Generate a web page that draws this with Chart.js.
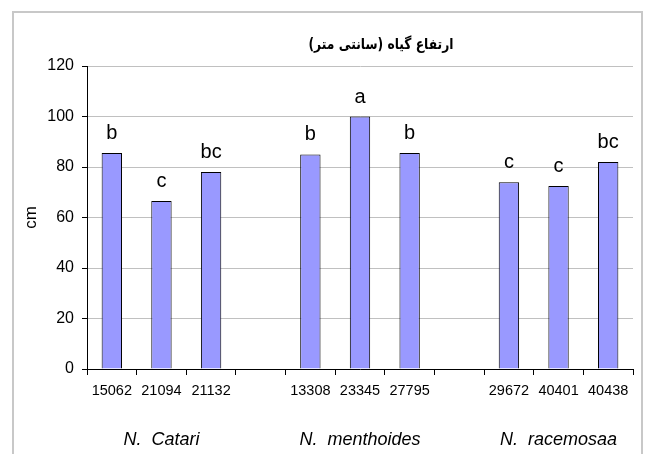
<!DOCTYPE html>
<html>
<head>
<meta charset="utf-8">
<script src="https://cdn.jsdelivr.net/npm/chart.js@4"></script>
<style>
  body { margin: 0; background: #fff; }
  #wrap { width: 646px; height: 454px; position: relative; }
</style>
</head>
<body>
<div id="wrap"><canvas id="chart"></canvas></div>
<script>
// Plant height data
const groups = ['N.  Catari', 'N.  menthoides', 'N.  racemosaa'];
const accessions = [
    ['15062', '21094', '21132'],
    ['13308', '23345', '27795'],
    ['29672', '40401', '40438'],
];
const heights = [
    [85.5, 66.5, 78],
    [85, 100, 85.5],
    [74, 72.5, 82],
];
const letters = [
    ['b', 'c', 'bc'],
    ['b', 'a', 'b'],
    ['c', 'c', 'bc'],
];
const yTicks = [0, 20, 40, 60, 80, 100, 120];
const title = 'ارتفاع گیاه (سانتی متر)';

// Flatten into one category axis, with an empty slot between groups
let labels = [];
let values = [];
let marks = [];
let groupRow = [];
groups.forEach((g, gi) => {
    accessions[gi].forEach((a, i) => {
        labels.push(a);
        values.push(heights[gi][i]);
        marks.push(letters[gi][i]);
        groupRow.push(i === 1 ? g : '');
    });
    if (gi < groups.length - 1) {
        labels.push('');
        values.push(null);
        marks.push('');
        groupRow.push('');
    }
});

const sans = '"Liberation Sans", Arial, sans-serif';

// Draws the frame, the title and the letters over the bars
const extras = {
    id: 'extras',
    beforeDraw(chart) {
        const ctx = chart.ctx;
        ctx.save();
        ctx.strokeStyle = '#c8c8c8';
        ctx.lineWidth = 2;
        ctx.strokeRect(13, 12, 629, 500);
        ctx.restore();
    },
    afterDatasetsDraw(chart) {
        const ctx = chart.ctx;
        ctx.save();
        ctx.fillStyle = '#000';
        ctx.textAlign = 'center';
        ctx.textBaseline = 'middle';
        // title is drawn a bit condensed, like the original
        ctx.save();
        ctx.translate(381, 45);
        ctx.scale(0.82, 1);
        ctx.font = 'bold 15px "DejaVu Sans", sans-serif';
        ctx.fillText(title, 0, 0);
        ctx.restore();

        ctx.font = '20px ' + sans;
        ctx.textBaseline = 'alphabetic';
        chart.getDatasetMeta(0).data.forEach((bar, i) => {
            if (values[i] == null) return;
            ctx.fillText(marks[i], bar.x, bar.y - 14);
        });
        ctx.restore();
    }
};

let config = {
    type: 'bar',
    data: {
        labels: labels,
        datasets: [{
            data: values,
            backgroundColor: '#9999ff',
            borderColor: '#000',
            borderWidth: 1,
            categoryPercentage: 1,
            barPercentage: 0.41,
        }]
    },
    options: {
        responsive: true,
        maintainAspectRatio: false,
        animation: false,
        layout: { padding: { top: 66, right: 13, bottom: 0, left: 0 } },
        plugins: {
            legend: { display: false },
            title: { display: false },
            tooltip: { enabled: false },
        },
        scales: {
            x: {
                type: 'category',
                grid: { offset: true, drawOnChartArea: false, drawTicks: true, tickLength: 6, tickColor: '#000' },
                border: { color: '#000', width: 1 },
                ticks: { color: '#000', font: { family: sans, size: 14.5 }, padding: 7, autoSkip: false, maxRotation: 0 },
                afterFit(scale) { scale.height = 36; },
            },
            x2: {
                type: 'category',
                labels: groupRow,
                position: 'bottom',
                grid: { display: false, drawTicks: false },
                border: { display: false },
                ticks: { color: '#000', font: { family: sans, size: 18, style: 'italic' }, padding: 24, autoSkip: false, maxRotation: 0 },
                afterFit(scale) { scale.height = 49; },
            },
            y: {
                min: 0,
                max: 120,
                afterBuildTicks(scale) { scale.ticks = yTicks.map(v => ({ value: v })); },
                grid: { color: '#c0c0c0', tickLength: 5, tickColor: '#000' },
                border: { color: '#000', width: 1 },
                ticks: { color: '#000', font: { family: sans, size: 16 }, padding: 8 },
                title: {
                    display: true,
                    text: 'cm',
                    color: '#000',
                    font: { family: sans, size: 17 },
                    padding: { top: 21, bottom: 0 },
                },
                afterFit(scale) { scale.width = 87; },
            },
        },
    },
    plugins: [extras],
};

new Chart(document.getElementById('chart'), config);
</script>
</body>
</html>
